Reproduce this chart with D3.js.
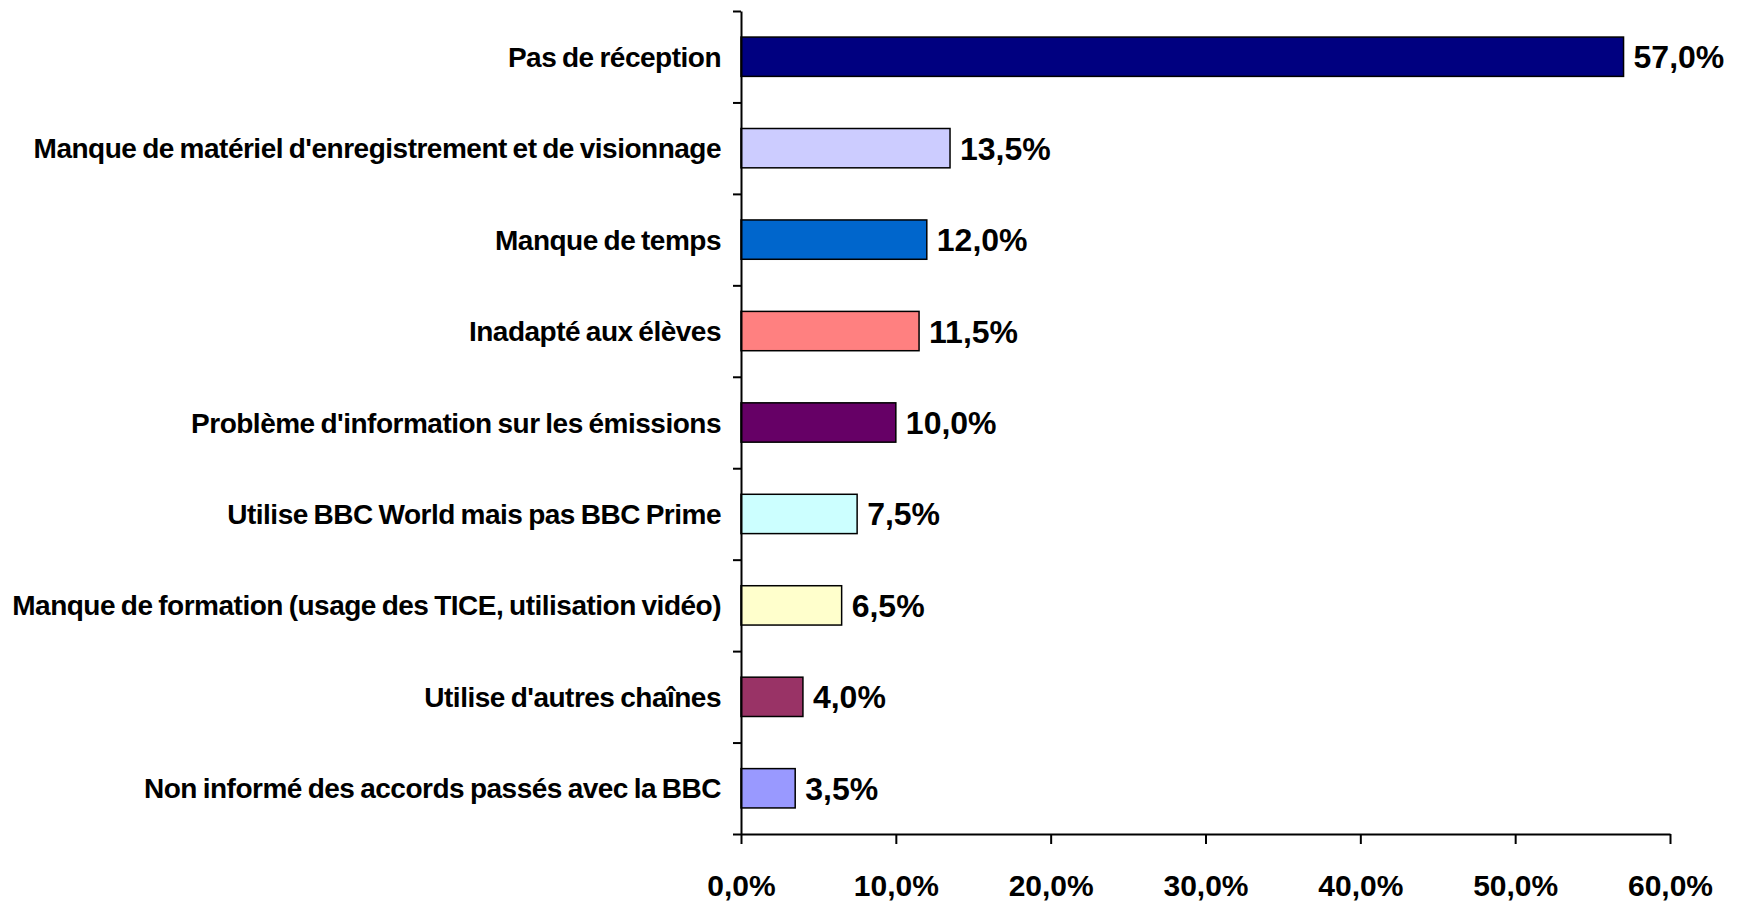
<!DOCTYPE html>
<html>
<head>
<meta charset="utf-8">
<script src="https://cdn.jsdelivr.net/npm/d3@7"></script>
<style>
	body { margin: 0; background: #fff; }
	text { font-family: "Liberation Sans", Arial, sans-serif; font-weight: bold; fill: #000; }
</style>
</head>
<body>
<script>
var categories = [
	"Pas de réception",
	"Manque de matériel d'enregistrement et de visionnage",
	"Manque de temps",
	"Inadapté aux élèves",
	"Problème d'information sur les émissions",
	"Utilise BBC World mais pas BBC Prime",
	"Manque de formation (usage des TICE, utilisation vidéo)",
	"Utilise d'autres chaînes",
	"Non informé des accords passés avec la BBC"
];
var values = [57.0, 13.5, 12.0, 11.5, 10.0, 7.5, 6.5, 4.0, 3.5];
var barColors = ["#000080", "#CCCCFF", "#0066CC", "#FF8080", "#660066", "#CCFFFF", "#FFFFCC", "#993366", "#9999FF"];
var xTicks = [0, 10, 20, 30, 40, 50, 60];

drawChart();

function drawChart(){
	var width = 1740,
		height = 901;

	// plot area edges
	var plotLeft = 741, plotRight = 1670,
		plotTop = 11, plotBottom = 834;

	var pct = function(v){ return d3.format(".1f")(v).replace(".", ",") + "%"; };

	var svg = d3.select("body").append("svg")
		.attr("width", width)
		.attr("height", height);

	var x = d3.scaleLinear()
		.domain([0, 60])
		.range([plotLeft, plotRight]);

	var y = d3.scaleBand()
		.domain(categories)
		.range([plotTop, plotBottom])
		.paddingInner(0.57)
		.paddingOuter(0.285);

	// boundaries between categories, for the tick marks of the left axis
	var yEdges = d3.scaleLinear()
		.domain([0, categories.length])
		.range([plotTop, plotBottom]);

	// bars
	svg.append("g")
		.selectAll("rect")
		.data(values)
		.enter()
		.append("rect")
		.attr("x", x(0))
		.attr("y", function(d, i){ return y(categories[i]); })
		.attr("width", function(d){ return x(d) - x(0); })
		.attr("height", y.bandwidth())
		.attr("fill", function(d, i){ return barColors[i]; })
		.attr("stroke", "#000")
		.attr("stroke-width", 1.5);

	// value labels
	svg.append("g")
		.selectAll("text")
		.data(values)
		.enter()
		.append("text")
		.attr("x", function(d){ return x(d) + 10; })
		.attr("y", function(d, i){ return y(categories[i]) + y.bandwidth() / 2 + 11.5; })
		.attr("font-size", 32)
		.text(pct);

	// left axis: tick marks on band edges
	var yAxis = svg.append("g")
		.attr("transform", "translate(" + plotLeft + ",0)")
		.call(d3.axisLeft(yEdges).tickValues(d3.range(categories.length + 1)).tickSize(8).tickSizeOuter(0).tickFormat(""));
	yAxis.selectAll("path, line").attr("stroke", "#000").attr("stroke-width", 2);

	// category labels
	var yLabels = svg.append("g")
		.attr("transform", "translate(" + plotLeft + ",0)")
		.call(d3.axisLeft(y).tickSize(0).tickPadding(20));
	yLabels.select(".domain").remove();
	yLabels.selectAll("text")
		.attr("font-size", 28)
		.attr("letter-spacing", "-0.5px")
		.attr("word-spacing", "-1.5px")
		.attr("font-family", null)
		.attr("dy", "0.36em");

	// bottom axis
	var xAxis = svg.append("g")
		.attr("transform", "translate(0," + plotBottom + ")")
		.call(d3.axisBottom(x).tickValues(xTicks).tickSize(10).tickSizeOuter(0).tickPadding(31).tickFormat(pct));
	xAxis.selectAll("path, line").attr("stroke", "#000").attr("stroke-width", 2);
	xAxis.selectAll("text")
		.attr("font-size", 30)
		.attr("font-family", null);
}
</script>
</body>
</html>
